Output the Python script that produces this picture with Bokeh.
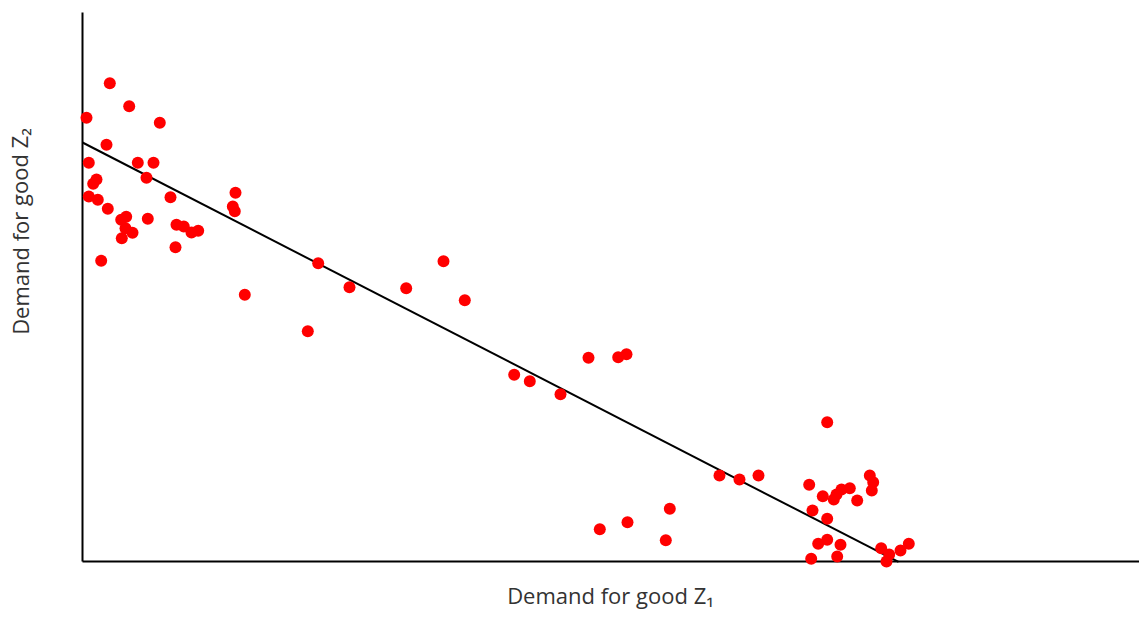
from bokeh.plotting import figure
from bokeh.models import Range1d
from bokeh.core.properties import value
from bokeh.embed import file_html
from bokeh.resources import INLINE

# Data (arbitrary demand units)
z1 = [2.73, 4.67, 0.40, 7.73, 2.40, 0.63, 5.53, 7.10, 6.40, 1.40,
      1.07, 15.30, 0.63, 1.53, 8.80, 15.03, 15.23, 2.53, 4.37, 3.87,
      6.53, 9.40, 10.13, 10.90, 11.57, 4.30, 5.00, 3.93, 9.30, 1.87,
      16.23, 23.57, 26.70, 22.53, 32.37, 36.10, 38.23, 43.17, 44.73, 47.80,
      50.60, 53.57, 54.40, 51.73, 54.50, 58.73, 58.33, 63.70, 65.70, 67.60,
      74.47, 72.67, 74.03, 75.13, 75.40, 75.90, 76.73, 77.47, 78.73, 79.07,
      78.93, 73.00, 74.47, 73.57, 74.47, 75.80, 72.87, 75.47, 79.87, 80.67,
      80.40, 81.80, 82.63]
z2 = [47.83, 45.53, 44.37, 43.87, 41.67, 39.87, 39.87, 39.87, 38.37, 38.20,
      37.77, 36.87, 36.50, 36.17, 36.43, 35.50, 35.03, 35.27, 34.47, 34.17,
      34.27, 33.67, 33.50, 32.90, 33.07, 33.33, 32.87, 32.33, 31.43, 30.07,
      26.67, 29.83, 27.43, 23.03, 27.33, 30.03, 26.13, 18.67, 18.03, 16.73,
      20.37, 20.43, 20.73, 3.23, 3.93, 5.27, 2.13, 8.60, 8.20, 8.60,
      13.93, 7.67, 6.53, 6.20, 6.70, 7.20, 7.33, 6.10, 8.60, 7.93,
      7.10, 5.10, 4.27, 1.77, 2.17, 1.67, 0.27, 0.50, 1.33, 0.70,
      0.00, 1.10, 1.77]

fit_intercept = 41.9
fit_slope = -0.514
fit_x = [0.0, 81.6]
fit_y = [fit_intercept + fit_slope * x for x in fit_x]

x_label = "Demand for good Z\u2081"
y_label = "Demand for good Z\u2082"

X0, X1 = -8.2, 105.7
Y0, Y1 = -5.0, 56.1

p = figure(width=1139, height=611, output_backend="svg", toolbar_location=None,
           x_range=Range1d(X0, X1), y_range=Range1d(Y0, Y1),
           min_border=0, min_border_left=0, min_border_right=0,
           min_border_top=0, min_border_bottom=0)
p.axis.visible = False
p.grid.visible = False
p.outline_line_color = None
p.background_fill_color = "white"
p.border_fill_color = "white"

# axes lines
p.line([0, X1], [0, 0], line_color="black", line_width=2)
p.line([0, 0], [0, 54.9], line_color="black", line_width=2)

# regression line
p.line(fit_x, fit_y, line_color="black", line_width=2)

# points
p.scatter(z1, z2, size=12, fill_color="#FF0000", line_color="#FF0000", line_width=0)

font = value("Open Sans")
p.text(x=[52.8], y=[-3.35], text=[x_label], text_font=font, text_font_size="22px",
       text_color="#333333", text_align="center", text_baseline="middle")
p.text(x=[-6.3], y=[33.0], text=[y_label], text_font=font, text_font_size="22px",
       text_color="#333333", text_align="center", text_baseline="middle", angle=1.5708)

open("out.html", "w").write(file_html(p, INLINE))
